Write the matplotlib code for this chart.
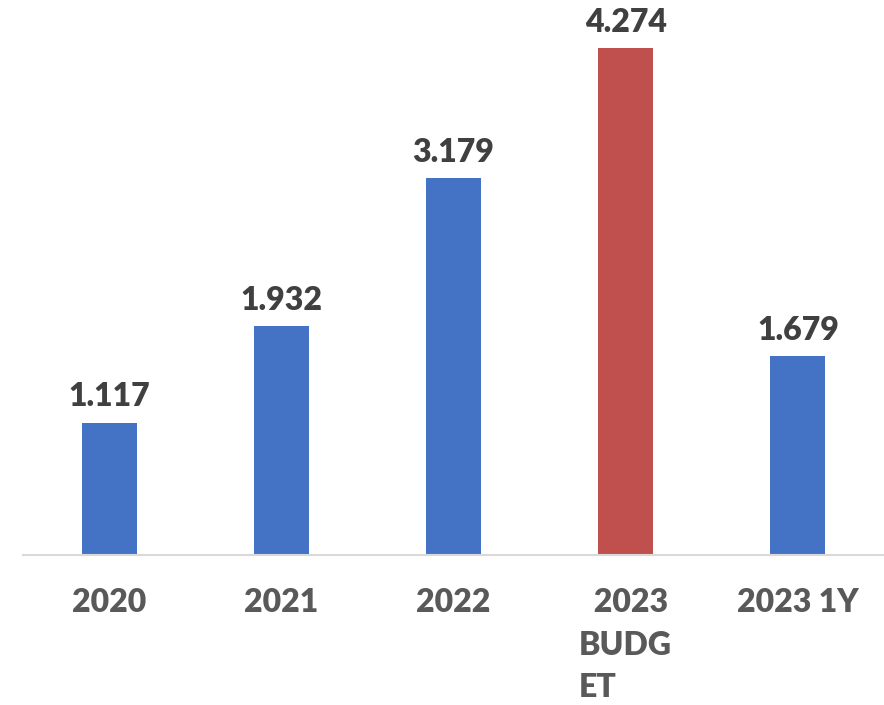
import matplotlib
matplotlib.use("Agg")
import matplotlib.pyplot as plt

categories = ["2020", "2021", "2022", "  2023\nBUDG\nET", "2023 1Y"]
values = [1.117, 1.932, 3.179, 4.274, 1.679]
value_labels = ["1.117", "1.932", "3.179", "4.274", "1.679"]
bar_colors = ["#4472C4", "#4472C4", "#4472C4", "#C0504D", "#4472C4"]

plt.rcParams['font.family'] = ['Lato', 'DejaVu Sans']

fig = plt.figure(figsize=(8.84, 7.05), dpi=100)
ax = fig.add_axes([23 / 884, 150 / 705, 861 / 884, 555 / 705])

x = list(range(len(categories)))
bars = ax.bar(x, values, width=0.32, color=bar_colors, zorder=2)

# value labels above each bar
for xi, v, lab in zip(x, values, value_labels):
    ax.annotate(lab, (xi, v), xytext=(0, 8), textcoords="offset points",
                ha="center", va="bottom", fontsize=23, fontweight="heavy",
                color="#404040")

ax.set_xlim(-0.5, 4.5)
ax.set_ylim(0, 4.68)
ax.set_xticks(x)
ax.set_xticklabels(categories, fontsize=23, fontweight="heavy", color="#595959",
                   linespacing=1.55, va="top")
for t in ax.get_xticklabels():
    t.set_multialignment("left")
ax.tick_params(axis="x", length=0, pad=24)
ax.set_yticks([])

for side in ["top", "right", "left"]:
    ax.spines[side].set_visible(False)
ax.spines["bottom"].set_color("#D9D9D9")
ax.spines["bottom"].set_linewidth(1.5)

fig.savefig("out.png", dpi=100)
